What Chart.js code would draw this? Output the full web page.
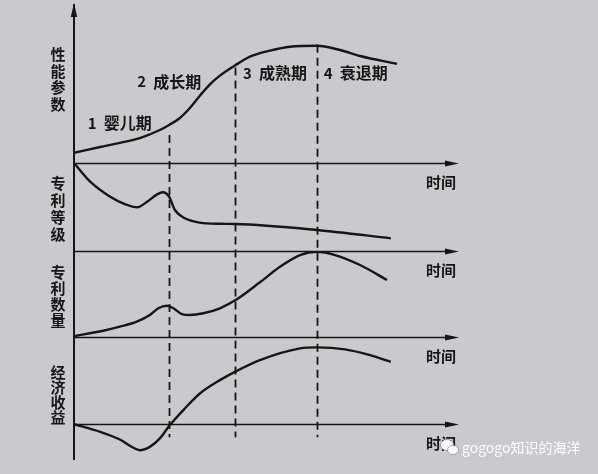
<!DOCTYPE html>
<html lang="zh">
<head>
<meta charset="utf-8">
<title>技术生命周期</title>
<script src="https://cdn.jsdelivr.net/npm/chart.js@4.4.1/dist/chart.umd.min.js"></script>
<style>
  html, body { margin: 0; padding: 0; background: #c9cacd; }
  #wrap { position: relative; width: 598px; height: 474px; }
</style>
</head>
<body>
<div id="wrap"><canvas id="chart" width="598" height="474"></canvas></div>
<script>
// time runs 0..100 in arbitrary units, each panel's level 0..100
const phaseEdges = [24.7, 41.8, 63.1];
const phaseNums = ['1', '2', '3', '4'];
const phaseNames = ['婴儿期', '成长期', '成熟期', '衰退期'];
const panelTitles = ['性能参数', '专利等级', '专利数量', '经济收益'];
const timeLabel = '时间';

// 性能参数
const perfT = [0, 6.8, 11.9, 17.1, 22.3, 24.7, 27.5, 30.1, 32.7, 35.3, 37.9, 41.8, 45.7, 50.9, 56.1, 63.1, 69.1, 74.3, 83.9];
const perfV = [6.5, 10.1, 12.7, 15.8, 20.9, 24.1, 28.5, 34.8, 42.6, 49.8, 55.3, 61.7, 67.3, 71.1, 73.6, 74.2, 71.5, 67.7, 62.7];

// 专利等级
const gradeT = [0, 4.2, 9.4, 13.2, 16.4, 19.0, 21.6, 23.1, 24.7, 26.2, 28.8, 32.7, 37.9, 41.8, 63.1, 82.3];
const gradeV = [100, 78.8, 61.7, 53.4, 49.7, 56.0, 64.4, 66.7, 61.7, 46.6, 37.2, 32.2, 30.9, 30.7, 23.9, 14.4];

// 专利数量
const countT = [0, 7.6, 11.9, 16.3, 19.7, 21.9, 24.1, 25.8, 28.0, 30.1, 33.6, 37.9, 42.3, 48.3, 53.5, 58.7, 63.1, 67.8, 74.3, 81.3];
const countV = [1, 7.3, 12.0, 17.8, 25.6, 33.4, 36.4, 33.4, 26.7, 25.6, 27.6, 33.4, 43.8, 63.6, 81.7, 95.3, 99.2, 95.3, 83.7, 66.3];

// 经济收益
const profitT = [0, 6.8, 11.9, 15.3, 17.1, 19.7, 22.3, 24.9, 28.8, 32.7, 37.9, 41.8, 48.3, 58.7, 63.1, 70.4, 76.9, 82.3];
const profitV = [0, -8.8, -17.6, -26.8, -29.9, -26.1, -16.4, -1.1, 18.0, 35.2, 50.5, 60.0, 73.5, 86.9, 88.1, 85.8, 79.2, 71.5];

const ink = '#161616';
const panelIds = ['yPerf', 'yGrade', 'yCount', 'yProfit'];
const cjk = '"Noto Sans CJK SC", "Noto Sans", sans-serif';

function pts(t, v) {
  return t.map((x, i) => ({ x, y: v[i] }));
}

function curve(t, v, axis) {
  return {
    data: pts(t, v),
    yAxisID: axis,
    borderColor: ink,
    borderWidth: 2.4,
    pointRadius: 0,
    fill: false,
    cubicInterpolationMode: 'monotone'
  };
}

function panelScale(min, max, weight) {
  return {
    type: 'linear',
    position: 'left',
    stack: 'panels',
    stackWeight: weight,
    min, max,
    ticks: { display: false },
    grid: { display: false, drawTicks: false },
    border: { display: true, color: ink, width: 2 }
  };
}

function arrowHead(ctx, x, y, dir) {
  ctx.beginPath();
  if (dir === 'up') {
    ctx.moveTo(x, y);
    ctx.lineTo(x - 3.2, y + 14);
    ctx.lineTo(x + 3.2, y + 14);
  } else {
    ctx.moveTo(x, y);
    ctx.lineTo(x - 14, y - 3);
    ctx.lineTo(x - 14, y + 3);
  }
  ctx.closePath();
  ctx.fill();
}

const decor = {
  id: 'decor',
  afterDatasetsDraw(chart) {
    const { ctx, chartArea, scales } = chart;
    const xs = scales.x;
    ctx.save();
    ctx.strokeStyle = ink;
    ctx.fillStyle = ink;

    // y axis arrow
    arrowHead(ctx, chartArea.left, chartArea.top - 2, 'up');

    // time axes, one per panel
    const titleLevel = [53, 48, 47, 34];
    const titleStep = [16.5, 16.7, 16, 15];
    panelIds.forEach((id, i) => {
      const sc = scales[id];
      const y0 = Math.round(sc.getPixelForValue(0)) + 0.5;
      ctx.lineWidth = 1.6;
      ctx.beginPath();
      ctx.moveTo(chartArea.left, y0);
      ctx.lineTo(chartArea.right - 6, y0);
      ctx.stroke();
      arrowHead(ctx, chartArea.right, y0, 'right');

      ctx.font = 'bold 15px ' + cjk;
      ctx.textAlign = 'center';
      ctx.textBaseline = 'middle';
      ctx.fillText(timeLabel, xs.getPixelForValue(95.3), y0 + 19);

      // vertical panel title
      ctx.font = 'bold 15px ' + cjk;
      const mid = sc.getPixelForValue(titleLevel[i]);
      const chars = Array.from(panelTitles[i]);
      chars.forEach((c, k) => {
        const cy = mid + (k - (chars.length - 1) / 2) * titleStep[i];
        ctx.fillText(c, chartArea.left - 16, cy);
      });
    });

    // phase boundaries: dashed, from the performance curve down to panel 4
    const perfMeta = chart.getDatasetMeta(0);
    const startGap = [10, 2, -1];
    const yBottom = scales.yProfit.getPixelForValue(-15);
    ctx.lineWidth = 1.8;
    ctx.setLineDash([8, 5]);
    phaseEdges.forEach((t, i) => {
      const idx = perfT.indexOf(t);
      const px = Math.round(xs.getPixelForValue(t)) + 0.5;
      const top = perfMeta.data[idx].y + startGap[i];
      ctx.beginPath();
      ctx.moveTo(px, top);
      ctx.lineTo(px, yBottom);
      ctx.stroke();
    });
    ctx.setLineDash([]);

    // phase names
    const labelAt = [[3.6, 25.3], [16.4, 51.5], [43.9, 56.8], [64.9, 56.8]];
    ctx.textAlign = 'left';
    ctx.textBaseline = 'middle';
    phaseNames.forEach((name, i) => {
      const lx = xs.getPixelForValue(labelAt[i][0]);
      const ly = scales.yPerf.getPixelForValue(labelAt[i][1]);
      ctx.font = 'bold 15px ' + cjk;
      ctx.fillText(phaseNums[i], lx, ly);
      ctx.font = 'bold 16px ' + cjk;
      ctx.fillText(name, lx + 16, ly);
    });

    // watermark
    ctx.fillStyle = 'rgba(255,255,255,0.95)';
    ctx.strokeStyle = 'rgba(120,120,120,0.6)';
    ctx.lineWidth = 1;
    ctx.beginPath();
    ctx.ellipse(447, 445, 6.5, 5.5, 0, 0, Math.PI * 2);
    ctx.fill(); ctx.stroke();
    ctx.beginPath();
    ctx.ellipse(453, 450, 5.5, 4.6, 0, 0, Math.PI * 2);
    ctx.fill(); ctx.stroke();
    ctx.fillStyle = '#ffffff';
    ctx.font = '14px ' + cjk;
    ctx.textAlign = 'left';
    ctx.fillText('gogogo知识的海洋', 462, 448);

    ctx.restore();
  }
};

new Chart(document.getElementById('chart'), {
  type: 'line',
  data: {
    datasets: [
      curve(perfT, perfV, 'yPerf'),
      curve(gradeT, gradeV, 'yGrade'),
      curve(countT, countV, 'yCount'),
      curve(profitT, profitV, 'yProfit')
    ]
  },
  options: {
    responsive: false,
    animation: false,
    devicePixelRatio: 1,
    layout: { padding: { left: 74, right: 139, top: 5, bottom: 15 } },
    // left-side stacked scales are laid out bottom panel first
    scales: {
      x: { type: 'linear', min: 0, max: 100, display: false },
      yProfit: panelScale(-40, 100, 122),
      yCount: panelScale(0, 100, 86),
      yGrade: panelScale(0, 100, 88),
      yPerf: panelScale(0, 100, 158)
    },
    plugins: { legend: { display: false }, tooltip: { enabled: false }, title: { display: false } }
  },
  plugins: [decor]
});
</script>
</body>
</html>
